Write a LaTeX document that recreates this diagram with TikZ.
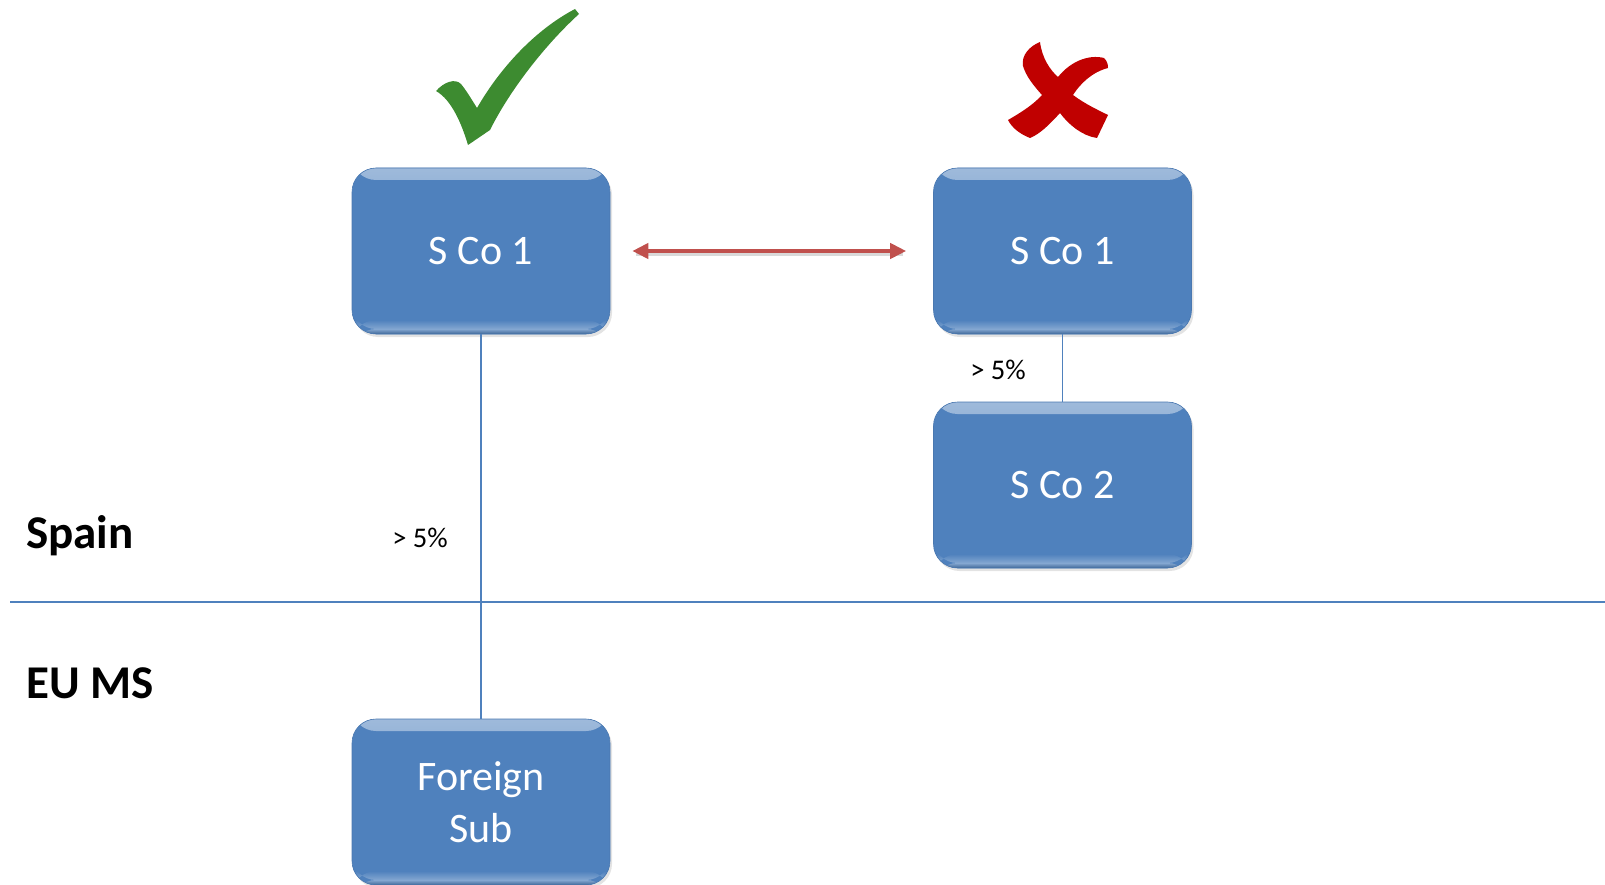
\documentclass[tikz,border=0pt]{standalone}
\usepackage{fontspec}
\setmainfont{Carlito}
\usetikzlibrary{arrows.meta,shadows}
\definecolor{boxblue}{HTML}{4F81BD}
\definecolor{boxedge}{HTML}{4A78B0}
\definecolor{linblue}{HTML}{4F81BD}
\definecolor{arrred}{HTML}{C0504D}
\definecolor{checkgreen}{HTML}{3D8B30}
\definecolor{crossred}{HTML}{C00000}
\tikzset{
  boxstyle/.style={rectangle, rounded corners=24pt, minimum width=258pt, minimum height=166pt,
    fill=boxblue, draw=boxedge, line width=0.6pt, text=white, align=center,
    font=\fontsize{42}{52}\selectfont,
    drop shadow={opacity=0.22, shadow xshift=2pt, shadow yshift=-3pt},
    path picture={
      \shade[top color=white!45!boxblue, bottom color=boxblue]
        (path picture bounding box.north west) rectangle ([yshift=-12pt]path picture bounding box.north east);
      \shade[top color=boxblue, bottom color=white!30!boxblue]
        ([yshift=14pt]path picture bounding box.south west) rectangle ([yshift=5pt]path picture bounding box.south east);
      \shade[top color=white!30!boxblue, bottom color=boxblue!80!black]
        ([yshift=5pt]path picture bounding box.south west) rectangle (path picture bounding box.south east);
    }},
  conn/.style={draw=linblue, line width=1.5pt},
  redarrow/.style={draw=arrred, line width=4pt, {Triangle[length=16pt,width=15pt]}-{Triangle[length=16pt,width=15pt]}},
  region/.style={font=\fontsize{47}{56}\selectfont\bfseries, text=black, inner sep=0pt},
  pct/.style={font=\fontsize{28.5}{32}\selectfont, text=black, inner sep=0pt}
}
\begin{document}
\begin{tikzpicture}[x=1pt,y=-1pt]
\useasboundingbox (0,0) rectangle (1605,885);
% separator line
\coordinate (hl) at (10,602);
\coordinate (hr) at (1605,602);
\draw[conn] (hl) -- (hr);
% boxes
\node[boxstyle] (b1) at (481,251) {S Co 1};
\node[boxstyle] (b2) at (1062.5,251) {S Co 1};
\node[boxstyle] (b3) at (1062.5,485) {S Co 2};
\node[boxstyle] (fs) at (481,802) {Foreign\\Sub};
% connectors
\draw[conn] (b1.south) -- (fs.north);
\draw[conn] (b2.south) -- (b3.north);
\draw[draw=black, opacity=0.15, line width=4pt] ([xshift=26pt,yshift=-3pt]b1.east) -- ([xshift=-30pt,yshift=-3pt]b2.west);
\draw[redarrow] ([xshift=22pt]b1.east) -- ([xshift=-27pt]b2.west);
% labels
\node[region, anchor=base west] (spain) at (26,548) {Spain};
\node[region, anchor=base west] (eums) at (26,698) {EU MS};
\node[pct] (p1) at (420,538) {> 5\%};
\node[pct] (p2) at (998,370) {> 5\%};
% check mark
\fill[checkgreen] (436,91) .. controls (444,82) and (455,78) .. (461,84)
  .. controls (466,90) and (472,100) .. (477,108)
  .. controls (500,68) and (535,30) .. (575,9) -- (579,14)
  .. controls (545,45) and (510,90) .. (490,130) -- (468,145)
  .. controls (462,125) and (452,100) .. cycle;
% cross
\fill[crossred] (1023,66) .. controls (1021,55) and (1030,46) .. (1040,42)
 .. controls (1042,58) and (1050,70) .. (1058,77)
 .. controls (1070,62) and (1088,54) .. (1104,58)
 .. controls (1107,61) and (1108,64) .. (1108,68)
 .. controls (1092,72) and (1080,84) .. (1073,95)
 .. controls (1085,104) and (1098,110) .. (1108,115)
 -- (1097,138)
 .. controls (1082,136) and (1068,124) .. (1060,113)
 .. controls (1050,124) and (1040,134) .. (1030,138)
 .. controls (1020,134) and (1012,128) .. (1008,120)
 .. controls (1022,112) and (1034,104) .. (1042,95)
 .. controls (1033,85) and (1026,76) .. cycle;
\end{tikzpicture}
\end{document}
